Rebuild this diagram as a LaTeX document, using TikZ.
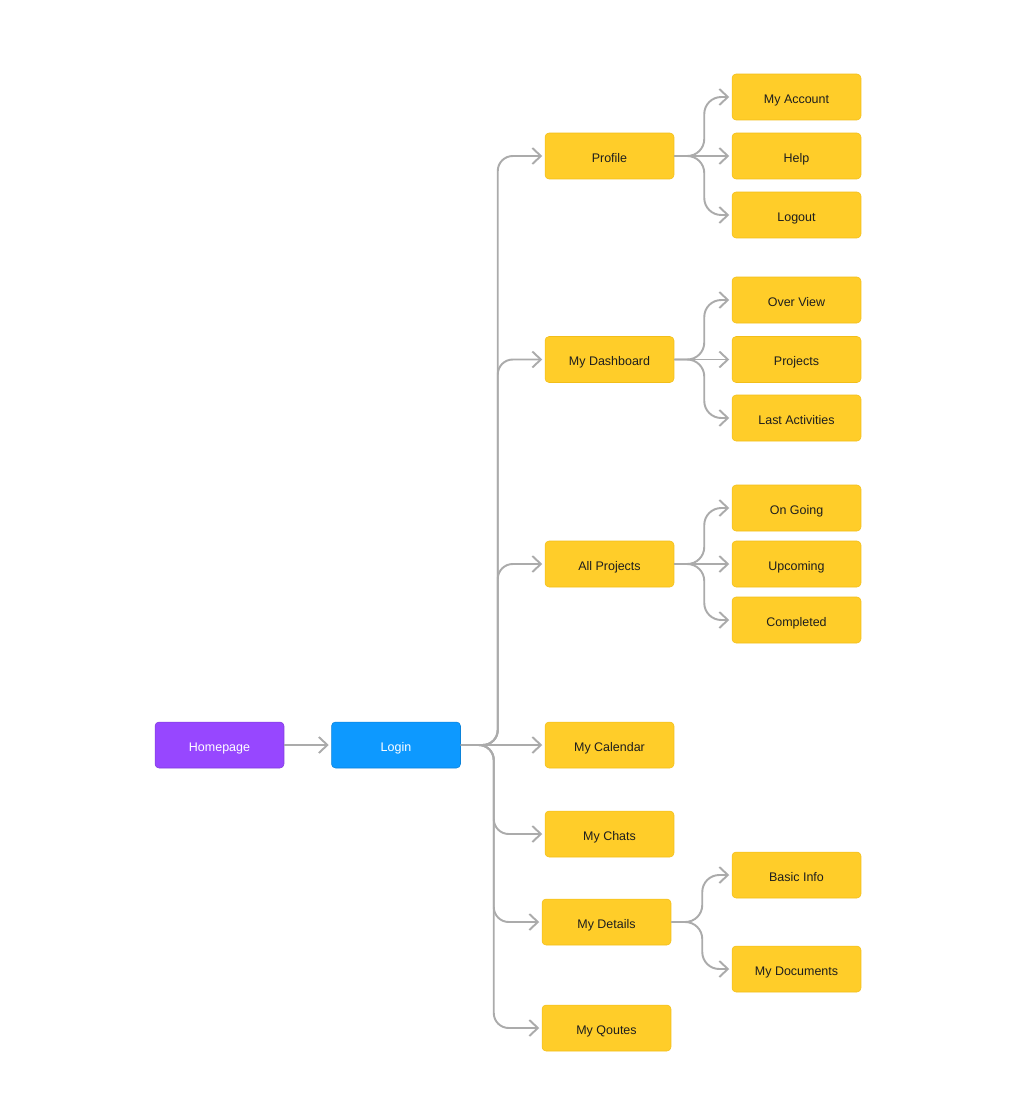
\documentclass[tikz,border=0pt]{standalone}
\usepackage{fontspec}
\setmainfont{Liberation Sans}
\usetikzlibrary{arrows.meta}
\definecolor{pagepurple}{HTML}{9747FF}
\definecolor{pageblue}{HTML}{0D99FF}
\definecolor{pageyellow}{HTML}{FFCD29}
\definecolor{pageedge}{HTML}{F2BE1A}
\definecolor{linkgray}{HTML}{ABABAB}
\definecolor{pagetext}{HTML}{1E1E1E}
\newcommand*{\boxw}{2.58cm}
\newcommand*{\boxh}{0.92cm}
\newcommand*{\rad }{3mm}
\newcommand*{\kid }{3.4mm}

\begin{document}
\begin{tikzpicture}[x=0.02cm, y=-0.02cm,
    font=\fontsize{7.1}{8.5}\selectfont,
    page/.style={rectangle, rounded corners=0.8mm, minimum width=\boxw, minimum height=\boxh,
        inner sep=0pt, text height=0.72em, text depth=0pt,
        fill=pageyellow, draw=pageedge, line width=0.3pt, text=pagetext},
    startpage/.style={page, fill=pagepurple, draw=pagepurple!85!black, text=white},
    loginpage/.style={page, fill=pageblue, draw=pageblue!85!black, text=white},
    link/.style={draw=linkgray, line width=1.1pt, shorten >=0.5mm,
        -{Straight Barb[length=1.7mm, width=3.2mm, line width=1.1pt]}},
    trunk/.style={link, rounded corners=\rad},
    fork/.style={link, rounded corners=\kid}]
    \useasboundingbox (0,0) rectangle (1024,1109);
        \node [startpage] (home)  at (219.5,745) {Homepage};
        \node [loginpage] (login) at (396,745)   {Login};
        \node [page] (profile)  at (609.5,156)  {Profile};
        \node [page] (dash)     at (609.5,359.5){My Dashboard};
        \node [page] (allproj)  at (609.5,564)  {All Projects};
        \node [page] (calendar) at (609.5,745)  {My Calendar};
        \node [page] (chats)    at (609.5,834)  {My Chats};
        \node [page] (details)  at (606.5,922)  {My Details};
        \node [page] (quotes)   at (606.5,1028) {My Qoutes};
        \node [page] (account)   at (796.5,97)  {My Account};
        \node [page] (help)      at (796.5,156) {Help};
        \node [page] (logout)    at (796.5,215) {Logout};
        \node [page] (overview)  at (796.5,300) {Over View};
        \node [page] (projects)  at (796.5,359.5) {Projects};
        \node [page] (lastact)   at (796.5,418) {Last Activities};
        \node [page] (ongoing)   at (796.5,508) {On Going};
        \node [page] (upcoming)  at (796.5,564) {Upcoming};
        \node [page] (completed) at (796.5,620) {Completed};
        \node [page] (basic)     at (796.5,875) {Basic Info};
        \node [page] (documents) at (796.5,969) {My Documents};
        \draw [link] (home) -- (login);
        \draw [link] (login) -- (calendar);
        \foreach \child in {profile, dash, allproj}
            \draw [trunk] (login.east) -- ++(37,0) |- (\child.west);
        \foreach \child in {chats, details, quotes}
            \draw [trunk] (login.east) -- ++(33,0) |- (\child.west);
        \draw [link] (profile) -- (help);
        \foreach \child in {account, logout}
            \draw [fork] (profile.east) -- ++(30,0) |- (\child.west);
        \draw [link] (dash) -- (projects);
        \foreach \child in {overview, lastact}
            \draw [fork] (dash.east) -- ++(30,0) |- (\child.west);
        \draw [link] (allproj) -- (upcoming);
        \foreach \child in {ongoing, completed}
            \draw [fork] (allproj.east) -- ++(30,0) |- (\child.west);
        \foreach \child in {basic, documents}
            \draw [fork] (details.east) -- ++(31,0) |- (\child.west);
    \end{tikzpicture}
\end{document}
